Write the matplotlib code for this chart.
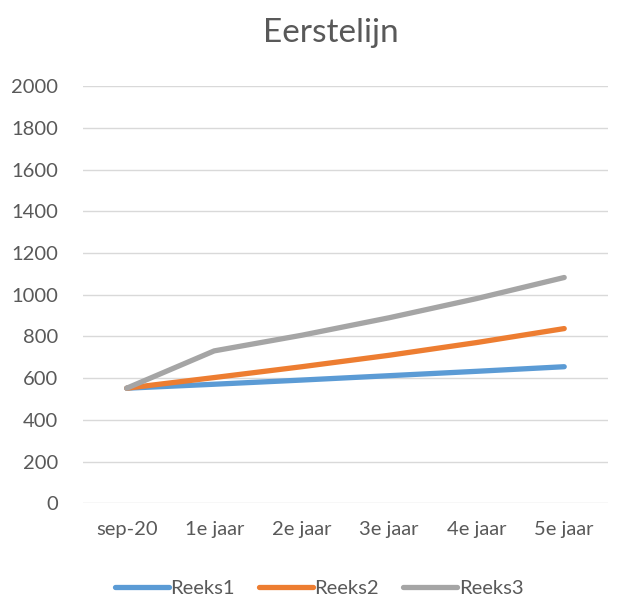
import matplotlib
matplotlib.use('Agg')
import matplotlib.pyplot as plt

# data
categories = ['sep-20', '1e jaar', '2e jaar', '3e jaar', '4e jaar', '5e jaar']
reeks1 = [552, 571, 591, 612, 633, 655]
reeks2 = [552, 603, 655, 710, 771, 838]
reeks3 = [552, 731, 806, 890, 982, 1083]
series_names = ['Reeks1', 'Reeks2', 'Reeks3']
y_ticks = [0, 200, 400, 600, 800, 1000, 1200, 1400, 1600, 1800, 2000]

colors = ['#5B9BD5', '#ED7D31', '#A5A5A5']
text_color = '#595959'

plt.rcParams['font.family'] = ['Lato', 'DejaVu Sans']

fig = plt.figure(figsize=(6.31, 5.97), dpi=100)
ax = fig.add_axes([0.1315, 0.157, 0.832, 0.6984])

x = list(range(len(categories)))
for vals, name, c in zip([reeks1, reeks2, reeks3], series_names, colors):
    ax.plot(x, vals, color=c, lw=3.8, solid_capstyle='round', label=name)

ax.set_xlim(-0.5, len(categories) - 0.5)
ax.set_ylim(0, 2000)
ax.set_yticks(y_ticks)
ax.set_xticks(x)
ax.set_xticklabels(categories)
ax.yaxis.grid(True, color='#D9D9D9', lw=1)
ax.set_axisbelow(True)
for s in ax.spines.values():
    s.set_visible(False)
ax.tick_params(length=0, labelsize=14.5, colors=text_color)
ax.tick_params(axis='y', pad=18)
ax.tick_params(axis='x', pad=13)

fig.text(0.525, 0.944, 'Eerstelijn', ha='center', va='center', fontsize=24, color=text_color)

fig.legend(loc='center', bbox_to_anchor=(0.506, 0.0135), ncol=3, frameon=False,
           fontsize=14.5, labelcolor=text_color, handlelength=2.65,
           handletextpad=0.1, columnspacing=1.2)

fig.savefig('out.png', dpi=100)
